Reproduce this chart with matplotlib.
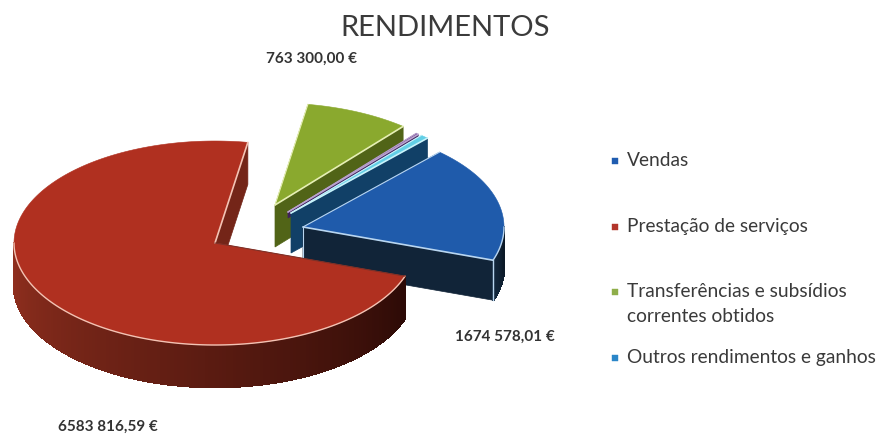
import numpy as np
import matplotlib
matplotlib.use("Agg")
import matplotlib.pyplot as plt
from matplotlib.colors import to_rgb
from matplotlib.patches import Polygon, Rectangle

title = "RENDIMENTOS"
slices = ["Vendas", "Outros", "Outros2", "Transf", "Prestacao"]
values = [1674578.01, 60000.0, 20000.0, 763300.00, 6583816.59]
legend_labels = ["Vendas", "Prestação de serviços",
                 "Transferências e subsídios\ncorrentes obtidos",
                 "Outros rendimentos e ganhos"]
legend_colors = ["#1f5cb0", "#b3352b", "#8fae4a", "#2a86c8"]
value_labels = ["763 300,00 €", "1674 578,01 €", "6583 816,59 €"]

top_colors = ["#1f5bab", "#62cfe6", "#6b3f92", "#8aa92e", "#b03020"]
edge_colors = ["#b9d6f0", "#c8f2fa", "#b9a3cc", "#e6efb5", "#f3c3b4"]
wall_light = ["#13293f", "#12456e", "#452363", "#55691b", "#93301f"]
wall_dark = ["#0b1826", "#0e3556", "#341a4c", "#46580f", "#2c0a06"]
centers = [(303, 227), (291, 213), (288, 212), (275, 205), (215, 243)]
depths = [40, 40, 6, 42, 42]

rx, ry = 201, 102
start_angle = -19

fig = plt.figure(figsize=(8.81, 4.34), dpi=100)
ax = fig.add_axes([0, 0, 1, 1])
ax.set_xlim(0, 881)
ax.set_ylim(434, 0)
ax.axis("off")


def mix(c1, c2, t):
    return tuple(a + (b - a) * t for a, b in zip(to_rgb(c1), to_rgb(c2)))


def point(c, ang):
    r = np.radians(ang)
    return c[0] + rx * np.cos(r), c[1] - ry * np.sin(r)


def draw_face(c, ang, depth, color, z):
    x, y = point(c, ang)
    ax.add_patch(Polygon([c, (x, y), (x, y + depth), (c[0], c[1] + depth)],
                         closed=True, fc=color, ec=color, lw=0.5, zorder=z))


def draw_wall(c, a1, a2, depth, light, dark, z):
    # outer rim, cut in small quads so the shade can run along it
    angs = np.linspace(a1, a2, int(abs(a2 - a1)) + 2)
    for i in range(len(angs) - 1):
        x0, y0 = point(c, angs[i])
        x1, y1 = point(c, angs[i + 1])
        col = mix(light, dark, i / (len(angs) - 1))
        ax.add_patch(Polygon([(x0, y0), (x1, y1), (x1, y1 + depth), (x0, y0 + depth)],
                             closed=True, fc=col, ec=col, lw=1.2, antialiased=False, zorder=z))


def draw_slice(c, a1, a2, depth, top, edge, light, dark, z):
    if np.cos(np.radians(a1)) > 0:
        draw_face(c, a1, depth, mix(light, dark, 0.3), z)
    if np.cos(np.radians(a2)) < 0:
        draw_face(c, a2, depth, mix(light, dark, 0.3), z)
    # front part of the rim only
    lo, hi = max(a1, 180), min(a2, 360)
    if hi > lo:
        draw_wall(c, lo, hi, depth, light, dark, z + 0.1)
    if a1 < 0:
        draw_wall(c, a1, min(a2, 0), depth, light, dark, z + 0.1)
    angs = np.linspace(a1, a2, 200)
    xy = [c] + [point(c, a) for a in angs]
    ax.add_patch(Polygon(xy, closed=True, fc=top, ec=top, lw=0.4, zorder=z + 0.2))
    # pale highlight on the edges that face the viewer
    x1, y1 = point(c, a1)
    ax.plot([c[0], x1], [c[1], y1], color=edge, lw=1.2, zorder=z + 0.3, solid_capstyle="round")
    front = angs[(np.sin(np.radians(angs)) < 0)]
    if len(front):
        pts = np.array([point(c, a) for a in front])
        ax.plot(pts[:, 0], pts[:, 1], color=edge, lw=1.0, zorder=z + 0.3)
    x2, y2 = point(c, a2)
    ax.plot([c[0], x2], [c[1], y2], color=edge if a2 < 90 else mix(top, "#333333", 0.4),
            lw=0.8, zorder=z + 0.3)
    if a1 < 0:
        ax.plot([x1, x1], [y1, y1 + depth], color=edge, lw=1.0, zorder=z + 0.3)
        ax.plot([c[0], c[0]], [c[1], c[1] + depth], color=edge, lw=0.8, zorder=z + 0.3)


total = sum(values)
angle = start_angle
bounds = []
for v in values:
    bounds.append((angle, angle + v / total * 360))
    angle += v / total * 360

# back slices first, the big one last
for i, order in enumerate([3, 2, 1, 0, 4]):
    a1, a2 = bounds[order]
    draw_slice(centers[order], a1, a2, depths[order], top_colors[order], edge_colors[order],
               wall_light[order], wall_dark[order], 2 + i)

ax.text(445, 28, title, ha="center", va="center", family="Lato", fontsize=21, color="#3b3b3b")

ax.text(311, 59, value_labels[0], ha="center", va="center", family="Lato",
        weight="bold", fontsize=11, color="#333333")
ax.text(505, 337, value_labels[1], ha="center", va="center", family="Lato",
        weight="bold", fontsize=11, color="#333333")
ax.text(108, 427, value_labels[2], ha="center", va="center", family="Lato",
        weight="bold", fontsize=11, color="#333333")

legend_y = [161, 227, 292, 358]
for lab, col, y in zip(legend_labels, legend_colors, legend_y):
    ax.add_patch(Rectangle((612, y - 3), 6, 6, fc=col, ec=col, lw=0.3, zorder=10))
    ax.text(627, y - 9, lab, ha="left", va="top", family="Lato", fontsize=13.8,
            color="#3a3a3a", linespacing=1.6)

fig.savefig("out.png", dpi=100)
